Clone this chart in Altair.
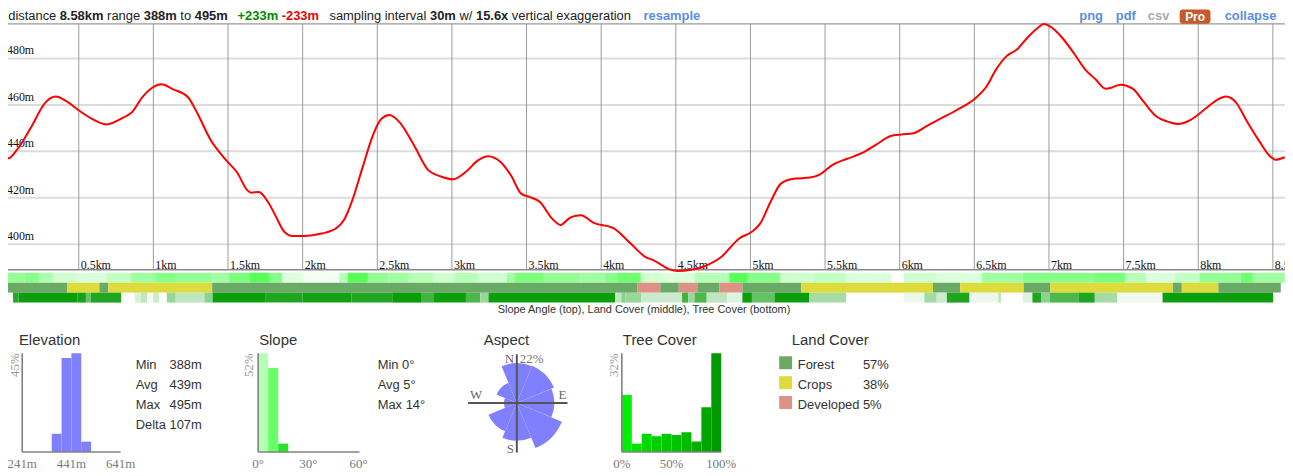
import altair as alt
import pandas as pd

# ------------------------------------------------------------------ data
profile_km = [0.0, 0.03, 0.083, 0.18, 0.276, 0.345, 0.414, 0.497, 0.58, 0.685, 0.8, 0.856, 0.925, 0.994,
              1.055, 1.132, 1.229, 1.298, 1.38, 1.49, 1.56, 1.63, 1.656, 1.706, 1.767, 1.822, 1.877, 1.932,
              2.015, 2.126, 2.222, 2.277, 2.333, 2.402, 2.47, 2.526, 2.581, 2.65, 2.747, 2.843, 2.926, 3.009,
              3.092, 3.174, 3.243, 3.326, 3.395, 3.464, 3.519, 3.588, 3.671, 3.727, 3.795, 3.865, 3.947,
              4.085, 4.196, 4.3, 4.345, 4.455, 4.51, 4.6, 4.677, 4.802, 4.927, 5.01, 5.066, 5.135, 5.204,
              5.288, 5.399, 5.467, 5.55, 5.648, 5.745, 5.842, 5.939, 6.009, 6.091, 6.174, 6.257, 6.383,
              6.507, 6.577, 6.646, 6.716, 6.785, 6.854, 6.924, 6.965, 7.007, 7.09, 7.173, 7.242, 7.312,
              7.381, 7.423, 7.478, 7.561, 7.63, 7.714, 7.811, 7.866, 7.949, 8.046, 8.13, 8.185, 8.254,
              8.324, 8.407, 8.476, 8.518, 8.58]
profile_elev = [437.5, 437.0, 440.4, 450.3, 461.0, 463.6, 461.7, 457.8, 454.3, 451.6, 454.6, 456.8, 463.2,
                467.5, 468.9, 466.7, 463.5, 456.0, 445.3, 436.0, 431.0, 423.2, 422.2, 422.5, 418.3, 411.8,
                405.4, 403.6, 403.6, 404.6, 406.8, 410.4, 419.0, 433.2, 446.8, 453.9, 455.6, 452.5, 442.5,
                431.8, 429.2, 428.0, 431.1, 436.1, 437.9, 435.4, 429.7, 421.8, 420.4, 418.3, 411.1, 408.3,
                411.6, 412.5, 409.3, 406.8, 400.4, 394.4, 393.3, 389.3, 388.5, 389.0, 390.2, 394.4, 402.6,
                405.4, 409.0, 418.3, 426.1, 428.2, 428.7, 430.1, 434.2, 436.8, 439.2, 442.9, 446.6, 447.3,
                447.8, 450.6, 453.6, 457.8, 462.9, 467.5, 475.3, 481.0, 483.8, 488.8, 493.1, 494.8, 493.8,
                488.8, 481.7, 475.3, 471.0, 467.0, 467.5, 468.7, 467.0, 461.7, 455.3, 452.5, 451.8, 453.6,
                458.2, 462.3, 463.6, 461.0, 453.2, 444.6, 438.2, 436.4, 437.5]

km_ticks = [0.5, 1, 1.5, 2, 2.5, 3, 3.5, 4, 4.5, 5, 5.5, 6, 6.5, 7, 7.5, 8, 8.5]
km_tick_labels = ["0.5km", "1km", "1.5km", "2km", "2.5km", "3km", "3.5km", "4km", "4.5km", "5km",
                  "5.5km", "6km", "6.5km", "7km", "7.5km", "8km", "8.5km"]
elev_ticks = [400, 420, 440, 460, 480]
elev_tick_labels = ["400m", "420m", "440m", "460m", "480m"]

slope_edges = [0, 0.137, 0.233, 0.329, 0.493, 0.684, 0.849, 1.013, 1.15, 1.397, 1.506, 1.643, 1.78, 1.862,
               2.0, 2.245, 2.3, 2.437, 2.574, 2.711, 2.875, 3.012, 3.176, 3.368, 3.423, 3.615, 3.861, 4.025,
               4.107, 4.266, 4.405, 4.625, 4.858, 4.982, 5.202, 5.422, 5.643, 5.945, 6.028, 6.248, 6.55,
               6.825, 7.293, 7.513, 7.651, 7.843, 8.008, 8.284, 8.366, 8.58]
slope_deg = [6.3, 7, 4.9, 2.8, 2.1, 3.5, 5.6, 7, 6.3, 5.6, 7.7, 9.8, 7, 2.1, 0.7, 4.2, 9.8, 6.3, 5.6, 4.2,
             2.8, 4.2, 2.8, 5.6, 7.7, 6.3, 5.6, 7, 8.4, 2.8, 2.1, 4.2, 9.8, 7, 2.8, 3.5, 2.1, 0, 2.8, 2.1,
             5.6, 7, 7.7, 4.2, 2.1, 3.5, 6.3, 8.4, 5.6]

land_edges = [0, 0.424, 0.638, 0.698, 1.394, 4.244, 4.396, 4.52, 4.644, 4.792, 4.946, 5.34, 6.223, 6.405,
              6.831, 7.01, 7.83, 7.89, 8.135, 8.553]
land_run_class = ["Forest", "Crops", "Forest", "Crops", "Forest", "Developed", "Forest", "Developed",
                  "Forest", "Developed", "Forest", "Crops", "Forest", "Crops", "Forest", "Crops", "Forest",
                  "Crops", "Forest"]

tree_edges = [0, 0.027, 0.06, 0.096, 0.493, 0.548, 0.58, 0.786, 0.876, 0.917, 0.958, 0.999, 1.04, 1.09,
              1.15, 1.342, 1.397, 1.753, 2.0, 2.328, 2.6, 2.793, 2.875, 3.094, 3.19, 3.245, 4.094, 4.135,
              4.162, 4.267, 4.542, 4.583, 4.625, 4.707, 4.845, 4.946, 5.01, 5.161, 5.395, 5.643, 6.028,
              6.165, 6.248, 6.316, 6.468, 6.66, 6.68, 6.825, 6.889, 6.95, 7.004, 7.197, 7.307, 7.458,
              7.761, 8.503, 8.58]
tree_cover = [75, 0, 85, 95, 90, 60, 87, 0, 15, 25, 5, 20, 0, 40, 25, 45, 95, 88, 92, 87, 96, 75, 95, 70,
              40, 95, 25, 45, 40, 20, 75, 40, 70, 25, 12, 95, 60, 95, 35, 0, 7, 35, 20, 88, 7, 25, 0, 12,
              88, 45, 70, 88, 35, 6, 95, 0]

elev_bin_start = [361, 401, 441, 481]
elev_bin_end = [401, 441, 481, 521]
elev_bin_pct = [8.3, 42.9, 45.0, 4.7]
elev_axis_ticks = [241, 441, 641]
elev_axis_labels = ["241m", "441m", "641m"]
elev_stat_names = ["Min", "Avg", "Max", "Delta"]
elev_stat_values = ["388m", "439m", "495m", "107m"]

slope_bin_start = [0, 6, 12]
slope_bin_end = [6, 12, 18]
slope_bin_pct = [52.0, 44.3, 4.4]
slope_axis_ticks = [0, 30, 60]
slope_axis_labels = ["0°", "30°", "60°"]
slope_stats = ["Min 0°", "Avg 5°", "Max 14°"]

aspect_dirs = ["N", "NE", "E", "SE", "S", "SW", "W", "NW"]
aspect_pct = [17.6, 17.8, 16.6, 21.6, 16.7, 13.6, 5.7, 9.7]

tree_bin_start = [0, 10, 20, 30, 40, 50, 60, 70, 80, 90]
tree_bin_pct = [18.5, 2.7, 5.9, 5.1, 5.9, 5.5, 6.4, 3.4, 14.5, 32.0]
tree_axis_ticks = [0, 50, 100]
tree_axis_labels = ["0%", "50%", "100%"]

land_classes = ["Forest", "Crops", "Developed"]
land_pcts = ["57%", "38%", "5%"]

# ------------------------------------------------------------------ styles
SANS = "Liberation Sans"
SERIF = "Liberation Serif"
LAND_COLORS = ["#6aaa66", "#dedb3c", "#dd9285"]
ONE = alt.Data(values=[{"a": 1}])

KM = alt.Scale(domain=[0, 8.58], range=[-3.9, 1284.8])
ELEV = alt.Scale(domain=[400, 480], range=[236.3, 49.3])


def tx(s, x, y, size=13, weight="normal", color="#222", font=SANS, align="left",
       baseline="alphabetic", angle=None):
    props = dict(text=s, fontSize=size, fontWeight=weight, color=color, font=font,
                 align=align, baseline=baseline)
    if angle is not None:
        props["angle"] = angle
    return alt.Chart(ONE).mark_text(**props).encode(x=alt.value(x), y=alt.value(y))


def hrule(x1, x2, y, color="#999", w=1.0):
    return alt.Chart(ONE).mark_rule(color=color, strokeWidth=w).encode(
        x=alt.value(x1), x2=alt.value(x2), y=alt.value(y))


def vrule(x, y1, y2, color="#999", w=1.0):
    return alt.Chart(ONE).mark_rule(color=color, strokeWidth=w).encode(
        x=alt.value(x), y=alt.value(y1), y2=alt.value(y2))


layers = []

# ------------------------------------------------------------------ profile
prof = pd.DataFrame({"km": profile_km, "elev": profile_elev})
kmt = pd.DataFrame({"km": km_ticks, "label": km_tick_labels})
elt = pd.DataFrame({"elev": elev_ticks, "label": elev_tick_labels})

layers.append(alt.Chart(elt).mark_rule(color="#dcdcdc", strokeWidth=2).encode(
    y=alt.Y("elev:Q", scale=ELEV, axis=None), x=alt.value(-4), x2=alt.value(1285)))
layers.append(alt.Chart(kmt).mark_rule(color="#9a9a9a", strokeWidth=1).encode(
    x=alt.X("km:Q", scale=KM, axis=None), y=alt.value(14.5), y2=alt.value(262)))
layers.append(hrule(-4, 1285, 14.5, "#9a9a9a", 1.2))
layers.append(hrule(-4, 1285, 262, "#8a8a8a", 1.5))
layers.append(alt.Chart(elt).mark_text(font=SERIF, fontSize=12, color="#111", align="left",
                                       baseline="alphabetic", dy=-4).encode(
    y=alt.Y("elev:Q", scale=ELEV, axis=None), x=alt.value(-1), text="label:N"))
layers.append(alt.Chart(kmt).mark_text(font=SERIF, fontSize=12, color="#111", align="left",
                                       baseline="alphabetic", dx=2).encode(
    x=alt.X("km:Q", scale=KM, axis=None), y=alt.value(261), text="label:N"))
layers.append(alt.Chart(prof).mark_line(color="#ff0000", strokeWidth=2, interpolate="monotone").encode(
    x=alt.X("km:Q", scale=KM, axis=None), y=alt.Y("elev:Q", scale=ELEV, axis=None)))

# ------------------------------------------------------------------ strips
slope_df = pd.DataFrame({"s": slope_edges[:-1], "e": slope_edges[1:], "deg": slope_deg})
land_df = pd.DataFrame({"s": land_edges[:-1], "e": land_edges[1:], "cls": land_run_class})
tree_df = pd.DataFrame({"s": tree_edges[:-1], "e": tree_edges[1:], "cov": tree_cover})

layers.append(alt.Chart(slope_df).mark_rect().encode(
    x=alt.X("s:Q", scale=KM, axis=None), x2="e:Q", y=alt.value(265), y2=alt.value(275),
    color=alt.Color("deg:Q", scale=alt.Scale(domain=[0, 10], range=["#ffffff", "#55ff55"],
                                              interpolate="rgb", clamp=True), legend=None)))
layers.append(alt.Chart(land_df).mark_rect().encode(
    x=alt.X("s:Q", scale=KM, axis=None), x2="e:Q", y=alt.value(275), y2=alt.value(285),
    color=alt.Color("cls:N", scale=alt.Scale(domain=land_classes, range=LAND_COLORS), legend=None)))
layers.append(alt.Chart(tree_df).mark_rect().encode(
    x=alt.X("s:Q", scale=KM, axis=None), x2="e:Q", y=alt.value(285), y2=alt.value(295),
    color=alt.Color("cov:Q", scale=alt.Scale(domain=[0, 100], range=["#ffffff", "#009900"],
                                              interpolate="rgb"), legend=None)))
layers.append(tx("Slope Angle (top), Land Cover (middle), Tree Cover (bottom)", 640, 305,
                 size=11, color="#333", align="center"))

# ------------------------------------------------------------------ elevation panel
AX = "#808080"
TICK = "#7a7a7a"
layers.append(tx("Elevation", 11, 337.5, size=15, color="#333"))
ex = alt.Scale(domain=[241, 641], range=[14.3, 113.3])
ey = alt.Scale(domain=[0, 45], range=[445.3, 346])
edf = pd.DataFrame({"s": elev_bin_start, "e": elev_bin_end, "pct": elev_bin_pct})
layers.append(alt.Chart(edf).mark_rect(color="#8080ff").encode(
    x=alt.X("s:Q", scale=ex, axis=None), x2="e:Q",
    y=alt.Y("pct:Q", scale=ey, axis=None), y2=alt.value(445.3)))
layers.append(vrule(14.3, 346, 445.3, AX, 1.6))
layers.append(hrule(14.3, 113.3, 445.3, AX, 1.6))
layers.append(alt.Chart(pd.DataFrame({"v": elev_axis_ticks, "l": elev_axis_labels})).mark_text(
    font=SERIF, fontSize=13, color=TICK, align="center", baseline="alphabetic").encode(
    x=alt.X("v:Q", scale=ex, axis=None), y=alt.value(461), text="l:N"))
layers.append(tx("45%", 11, 346, size=13, color="#999", font=SERIF, align="right",
                 baseline="alphabetic", angle=270))
rows4 = alt.Scale(domain=elev_stat_names, range=[362, 422], padding=0)
sdf = pd.DataFrame({"n": elev_stat_names, "v": elev_stat_values})
layers.append(alt.Chart(sdf).mark_text(font=SANS, fontSize=13, color="#333", align="left",
                                       baseline="alphabetic").encode(
    y=alt.Y("n:N", scale=rows4, axis=None), x=alt.value(128.5), text="n:N"))
layers.append(alt.Chart(sdf).mark_text(font=SANS, fontSize=13, color="#333", align="left",
                                       baseline="alphabetic").encode(
    y=alt.Y("n:N", scale=rows4, axis=None), x=alt.value(162.5), text="v:N"))

# ------------------------------------------------------------------ slope panel
layers.append(tx("Slope", 252.7, 337.5, size=15, color="#333"))
sx = alt.Scale(domain=[0, 60], range=[251.7, 352.7])
sy = alt.Scale(domain=[0, 52], range=[445.3, 346])
sldf = pd.DataFrame({"s": slope_bin_start, "e": slope_bin_end, "pct": slope_bin_pct,
                     "b": ["0-6", "6-12", "12-18"]})
layers.append(alt.Chart(sldf).mark_rect().encode(
    x=alt.X("s:Q", scale=sx, axis=None), x2="e:Q",
    y=alt.Y("pct:Q", scale=sy, axis=None), y2=alt.value(445.3),
    color=alt.Color("b:N", scale=alt.Scale(domain=["0-6", "6-12", "12-18"],
                                           range=["#b3ffb3", "#66ff66", "#22e622"]), legend=None)))
layers.append(vrule(251.7, 346, 445.3, AX, 1.6))
layers.append(hrule(251.7, 353.7, 445.3, AX, 1.6))
layers.append(alt.Chart(pd.DataFrame({"v": slope_axis_ticks, "l": slope_axis_labels})).mark_text(
    font=SERIF, fontSize=13, color=TICK, align="center", baseline="alphabetic").encode(
    x=alt.X("v:Q", scale=sx, axis=None), y=alt.value(461), text="l:N"))
layers.append(tx("52%", 247, 346, size=13, color="#999", font=SERIF, align="right",
                 baseline="alphabetic", angle=270))
rows3 = alt.Scale(domain=slope_stats, range=[362, 402], padding=0)
layers.append(alt.Chart(pd.DataFrame({"n": slope_stats})).mark_text(
    font=SANS, fontSize=13, color="#333", align="left", baseline="alphabetic").encode(
    y=alt.Y("n:N", scale=rows3, axis=None), x=alt.value(372), text="n:N"))

# ------------------------------------------------------------------ aspect rose
layers.append(tx("Aspect", 478.7, 337.5, size=15, color="#333"))
adf = pd.DataFrame({"dir": aspect_dirs, "pct": aspect_pct})
adf["start"] = [i * 45 - 22.5 for i in range(len(aspect_dirs))]
adf["end"] = [i * 45 + 22.5 for i in range(len(aspect_dirs))]
layers.append(alt.Chart(adf).mark_arc(color="#8080ff").encode(
    theta=alt.Theta("start:Q", scale=alt.Scale(domain=[0, 360], range=[0, 6.283185]), stack=None),
    theta2="end:Q",
    radius=alt.Radius("pct:Q", scale=alt.Scale(type="linear", domain=[0, 22], range=[0, 50])),
    x=alt.value(512), y=alt.value(396)))
layers.append(hrule(463, 563, 396, "#555", 2))
layers.append(vrule(512, 347, 446, "#555", 2))
layers.append(tx("N", 504.5, 356, size=13, color="#666", font=SERIF, align="center"))
layers.append(tx("22%", 515, 356, size=13, color="#777", font=SERIF))
layers.append(tx("W", 471, 392, size=13, color="#666", font=SERIF, align="center"))
layers.append(tx("E", 558, 392, size=13, color="#666", font=SERIF, align="center"))
layers.append(tx("S", 505.5, 446, size=13, color="#666", font=SERIF, align="center"))

# ------------------------------------------------------------------ tree cover panel
layers.append(tx("Tree Cover", 618.7, 337.5, size=15, color="#333"))
tcx = alt.Scale(domain=[0, 100], range=[617.7, 717.7])
tcy = alt.Scale(domain=[0, 32], range=[445.3, 346])
tdf = pd.DataFrame({"s": tree_bin_start, "e": [v + 10 for v in tree_bin_start], "pct": tree_bin_pct,
                    "b": [str(v) for v in tree_bin_start]})
layers.append(alt.Chart(tdf).mark_rect().encode(
    x=alt.X("s:Q", scale=tcx, axis=None), x2="e:Q",
    y=alt.Y("pct:Q", scale=tcy, axis=None), y2=alt.value(445.3),
    color=alt.Color("b:N", scale=alt.Scale(
        domain=[str(v) for v in tree_bin_start],
        range=["#00ee00", "#00e200", "#00d800", "#00d000", "#00c900", "#00c200", "#00ba00",
               "#00b000", "#00a500", "#009900"]), legend=None)))
layers.append(vrule(617.7, 346, 445.3, AX, 1.6))
layers.append(hrule(617.7, 717.7, 445.3, AX, 1.6))
layers.append(alt.Chart(pd.DataFrame({"v": tree_axis_ticks, "l": tree_axis_labels})).mark_text(
    font=SERIF, fontSize=13, color=TICK, align="center", baseline="alphabetic").encode(
    x=alt.X("v:Q", scale=tcx, axis=None), y=alt.value(461), text="l:N"))
layers.append(tx("32%", 614, 346, size=13, color="#999", font=SERIF, align="right",
                 baseline="alphabetic", angle=270))

# ------------------------------------------------------------------ land cover legend
layers.append(tx("Land Cover", 788.7, 337.5, size=15, color="#333"))
ldf = pd.DataFrame({"cls": land_classes, "pct": land_pcts})
layers.append(alt.Chart(ldf).mark_square(size=169, opacity=1).encode(
    y=alt.Y("cls:N", scale=alt.Scale(domain=land_classes, range=[355.5, 395.5], padding=0), axis=None),
    x=alt.value(782.5),
    color=alt.Color("cls:N", scale=alt.Scale(domain=land_classes, range=LAND_COLORS), legend=None)))
lrows = alt.Scale(domain=land_classes, range=[362, 402], padding=0)
layers.append(alt.Chart(ldf).mark_text(font=SANS, fontSize=13, color="#333", align="left",
                                       baseline="alphabetic").encode(
    y=alt.Y("cls:N", scale=lrows, axis=None), x=alt.value(794.7), text="cls:N"))
layers.append(alt.Chart(ldf).mark_text(font=SANS, fontSize=13, color="#333", align="left",
                                       baseline="alphabetic").encode(
    y=alt.Y("cls:N", scale=lrows, axis=None), x=alt.value(860.3), text="pct:N"))

# ------------------------------------------------------------------ header
HY = 11
BLUE = "#5b8ddf"
layers += [
    tx("distance", 0.2, HY),
    tx("8.58km", 52.0, HY, weight="bold"),
    tx("range", 99.7, HY),
    tx("388m", 136.6, HY, weight="bold"),
    tx("to", 173.4, HY),
    tx("495m", 187.9, HY, weight="bold"),
    tx("+233m", 231.0, HY, weight="bold", color="#008a00"),
    tx("-233m", 275.4, HY, weight="bold", color="#ee0000"),
    tx("sampling interval", 323.5, HY),
    tx("30m", 424.6, HY, weight="bold"),
    tx("w/", 454.3, HY),
    tx("15.6x", 470.9, HY, weight="bold"),
    tx("vertical exaggeration", 507.0, HY),
    tx("resample", 639.5, HY, weight="bold", color=BLUE),
    tx("png", 1078, HY, weight="bold", color=BLUE),
    tx("pdf", 1114.7, HY, weight="bold", color=BLUE),
    tx("csv", 1147, HY, weight="bold", color="#aaaaaa"),
    alt.Chart(ONE).mark_rect(color="#c8592c", cornerRadius=3).encode(
        x=alt.value(1179), x2=alt.value(1210), y=alt.value(0), y2=alt.value(14.5)),
    tx("Pro", 1194.5, 11.5, size=12, weight="bold", color="#ffffff", align="center"),
    tx("collapse", 1224.3, HY, weight="bold", color=BLUE),
]

chart = alt.layer(*layers).resolve_scale(
    x="independent", y="independent", color="independent"
).properties(
    width=1285, height=464, autosize=alt.AutoSizeParams(type="none"), padding=0
).configure_view(stroke=None)

chart.save("out.html", embed_options={"renderer": "svg", "actions": False})
